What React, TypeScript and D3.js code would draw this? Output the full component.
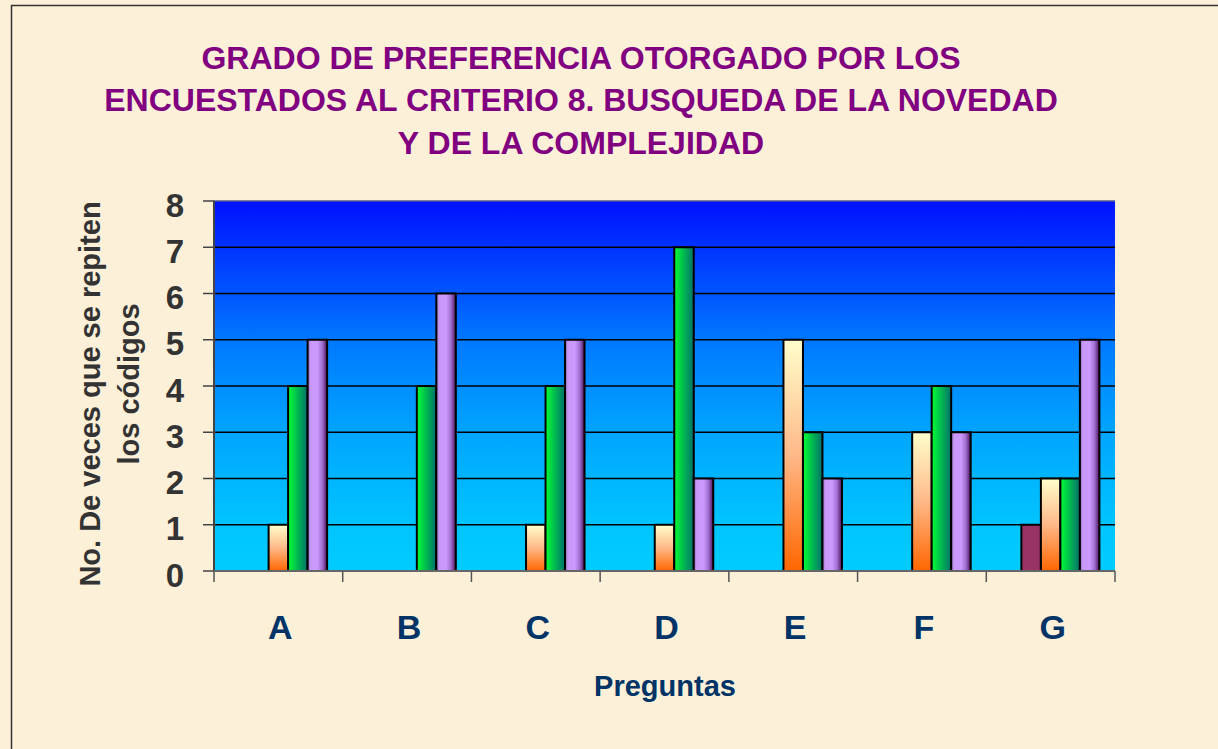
import { useMemo } from 'react'
import * as d3 from 'd3'

const WIDTH = 1218
const HEIGHT = 749

const categories = ['A', 'B', 'C', 'D', 'E', 'F', 'G']
// cuatro series, de izquierda a derecha dentro de cada pregunta
const serieMagenta = [0, 0, 0, 0, 0, 0, 1]
const serieNaranja = [1, 0, 1, 1, 5, 3, 2]
const serieVerde = [4, 4, 4, 7, 3, 4, 2]
const serieMorada = [5, 6, 5, 2, 2, 3, 5]
const yTicks = [0, 1, 2, 3, 4, 5, 6, 7, 8]

const titleLines = [
  'GRADO DE PREFERENCIA OTORGADO POR LOS',
  'ENCUESTADOS AL CRITERIO 8. BUSQUEDA DE LA NOVEDAD',
  'Y DE LA COMPLEJIDAD',
]
const yTitleLines = ['No. De veces que se repiten', 'los códigos']
const xTitle = 'Preguntas'

const series = [
  { key: 's1', values: serieMagenta, fill: '#993366' },
  { key: 's2', values: serieNaranja, fill: 'url(#gNaranja)' },
  { key: 's3', values: serieVerde, fill: 'url(#gVerde)' },
  { key: 's4', values: serieMorada, fill: 'url(#gMorada)' },
]

const PLOT = { left: 214, right: 1115, top: 201, bottom: 571 }
const FONT = 'Arial, "Liberation Sans", sans-serif'

export default function App() {
  const x = useMemo(
    () => d3.scaleBand<string>().domain(categories).range([PLOT.left, PLOT.right]),
    []
  )
  // the original leaves an empty slot before the first series
  const xs = useMemo(
    () =>
      d3
        .scaleBand<string>()
        .domain(['hueco', ...series.map((s) => s.key)])
        .range([0, x.bandwidth()])
        .paddingInner(0)
        .paddingOuter(0.8),
    [x]
  )
  const y = useMemo(
    () => d3.scaleLinear().domain([0, 8]).range([PLOT.bottom, PLOT.top]),
    []
  )

  const boundaries = [...categories.map((c) => x(c) as number), PLOT.right]

  return (
    <div style={{ position: 'fixed', left: 0, top: 0 }}>
      <svg width={WIDTH} height={HEIGHT} style={{ display: 'block' }}>
        <defs>
          <linearGradient id="gFondo" x1="0" y1="0" x2="0" y2="1">
            <stop offset="0" stopColor="#0010FF" />
            <stop offset="0.375" stopColor="#0078FF" />
            <stop offset="0.625" stopColor="#00A5FF" />
            <stop offset="0.875" stopColor="#00C5FF" />
            <stop offset="1" stopColor="#00CCFF" />
          </linearGradient>
          <linearGradient id="gNaranja" x1="0" y1="0" x2="0" y2="1">
            <stop offset="0" stopColor="#FFFFCC" />
            <stop offset="0.5" stopColor="#FFB888" />
            <stop offset="1" stopColor="#FF6600" />
          </linearGradient>
          <linearGradient id="gVerde" x1="0" y1="0" x2="1" y2="0">
            <stop offset="0" stopColor="#00FF33" />
            <stop offset="1" stopColor="#00706C" />
          </linearGradient>
          <linearGradient id="gMorada" x1="0" y1="0" x2="1" y2="0">
            <stop offset="0" stopColor="#9070B8" />
            <stop offset="0.15" stopColor="#C898F8" />
            <stop offset="0.5" stopColor="#CC99FF" />
            <stop offset="0.75" stopColor="#A070D0" />
            <stop offset="1" stopColor="#4B0F5A" />
          </linearGradient>
        </defs>

        <rect width={WIDTH} height={HEIGHT} fill="#FCF0D9" />
        <rect
          x={11.5}
          y={5.5}
          width={WIDTH + 50}
          height={HEIGHT + 50}
          fill="none"
          stroke="#333"
          strokeWidth={1.5}
        />

        {titleLines.map((t, i) => (
          <text
            key={t}
            x={581}
            y={68.5 + i * 42.5}
            textAnchor="middle"
            fontFamily={FONT}
            fontWeight="bold"
            fontSize={32}
            fill="#800080"
          >
            {t}
          </text>
        ))}

        {/* plot area */}
        <rect
          x={PLOT.left}
          y={PLOT.top}
          width={PLOT.right - PLOT.left}
          height={PLOT.bottom - PLOT.top}
          fill="url(#gFondo)"
        />
        {yTicks
          .filter((t) => t > 0 && t < 8)
          .map((t) => (
            <line
              key={t}
              x1={PLOT.left}
              x2={PLOT.right}
              y1={y(t)}
              y2={y(t)}
              stroke="#000"
              strokeWidth={1.5}
            />
          ))}
        <line
          x1={PLOT.left}
          x2={PLOT.right}
          y1={PLOT.top}
          y2={PLOT.top}
          stroke="#555a90"
          strokeWidth={1.5}
        />

        {series.map((s) =>
          s.values.map((v, i) =>
            v > 0 ? (
              <rect
                key={s.key + i}
                x={(x(categories[i]) as number) + (xs(s.key) as number)}
                y={y(v)}
                width={xs.bandwidth()}
                height={y(0) - y(v)}
                fill={s.fill}
                stroke="#000"
                strokeWidth={2}
              />
            ) : null
          )
        )}

        {/* axes */}
        <line
          x1={PLOT.left}
          x2={PLOT.left}
          y1={PLOT.top}
          y2={PLOT.bottom}
          stroke="#444"
          strokeWidth={2}
        />
        <line
          x1={PLOT.left}
          x2={PLOT.right}
          y1={PLOT.bottom}
          y2={PLOT.bottom}
          stroke="#666"
          strokeWidth={2}
        />
        {yTicks.map((t) => (
          <g key={t}>
            <line
              x1={PLOT.left - 11}
              x2={PLOT.left}
              y1={y(t)}
              y2={y(t)}
              stroke="#444"
              strokeWidth={1.5}
            />
            <text
              x={184}
              y={y(t) + 15.5}
              textAnchor="end"
              fontFamily={FONT}
              fontWeight="bold"
              fontSize={33}
              fill="#333"
            >
              {t}
            </text>
          </g>
        ))}
        {boundaries.map((b, i) => (
          <line
            key={i}
            x1={b}
            x2={b}
            y1={PLOT.bottom}
            y2={PLOT.bottom + 11}
            stroke="#555"
            strokeWidth={1.5}
          />
        ))}
        {categories.map((c) => (
          <text
            key={c}
            x={(x(c) as number) + x.bandwidth() / 2 + 2}
            y={639}
            textAnchor="middle"
            fontFamily={FONT}
            fontWeight="bold"
            fontSize={34}
            fill="#003366"
          >
            {c}
          </text>
        ))}

        <text
          x={665}
          y={696}
          textAnchor="middle"
          fontFamily={FONT}
          fontWeight="bold"
          fontSize={29}
          fill="#003366"
        >
          {xTitle}
        </text>

        {yTitleLines.map((t, i) => (
          <text
            key={t}
            transform={`translate(${i === 0 ? 100 : 139}, ${i === 0 ? 394 : 384}) rotate(-90)`}
            textAnchor="middle"
            fontFamily={FONT}
            fontWeight="bold"
            fontSize={29}
            fill="#333"
          >
            {t}
          </text>
        ))}
      </svg>
    </div>
  )
}
